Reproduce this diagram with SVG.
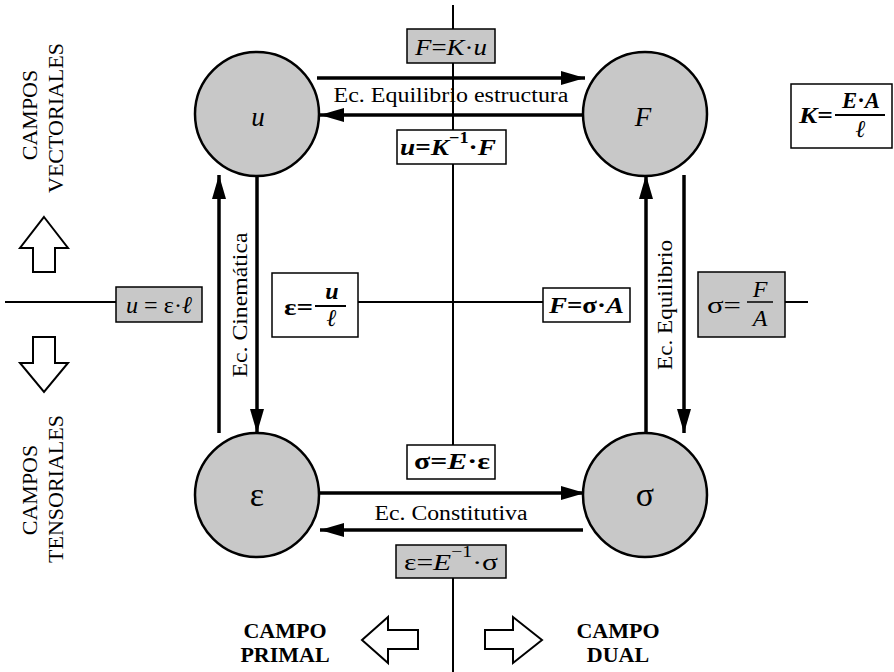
<svg xmlns="http://www.w3.org/2000/svg" width="894" height="672" viewBox="0 0 894 672" font-family="'Liberation Serif', 'Times New Roman', serif">
<defs>
<style>
text{font-family:'Liberation Serif','Times New Roman',serif;fill:#000}
.ax{stroke:#000;stroke-width:2;fill:none}
.ar{stroke:#000;stroke-width:3.5;fill:none;marker-end:url(#ah)}
.nd{fill:#c8c8c8;stroke:#000;stroke-width:2.5}
.bg{fill:#c8c8c8;stroke:#000;stroke-width:1.5}
.bw{fill:#fff;stroke:#000;stroke-width:1.5}
.blk{fill:#fff;stroke:#000;stroke-width:2}
.lbl{font-size:20px}
.side{font-size:22px}
.camp{font-size:22px;font-weight:bold}
.f{font-size:24px}
.i{font-style:italic}
.b{font-weight:bold}
.bi{font-weight:bold;font-style:italic}
.sup{font-size:16px}
</style>
<marker id="ah" markerUnits="userSpaceOnUse" markerWidth="26" markerHeight="14" refX="24" refY="7" orient="auto">
<path d="M0,0 L24,7 L0,14 z" fill="#000"/>
</marker>
</defs>

<g id="axes">
<line class="ax" x1="453" y1="5" x2="453" y2="445"/>
<line class="ax" x1="453" y1="578" x2="453" y2="672"/>
<line class="ax" x1="5" y1="302" x2="116" y2="302"/>
<line class="ax" x1="358" y1="302" x2="543" y2="302"/>
<line class="ax" x1="785" y1="302" x2="808" y2="302"/>
</g>

<g id="connectors">
<line class="ar" x1="317" y1="78" x2="585" y2="78"/>
<line class="ar" x1="583" y1="115" x2="320" y2="115"/>
<line class="ar" x1="317" y1="493" x2="585" y2="493"/>
<line class="ar" x1="583" y1="530" x2="320" y2="530"/>
<line class="ar" x1="219" y1="433" x2="219" y2="175"/>
<line class="ar" x1="257" y1="176" x2="257" y2="433"/>
<line class="ar" x1="646" y1="433" x2="646" y2="175"/>
<line class="ar" x1="684" y1="175" x2="684" y2="433"/>
<text class="lbl" x="451" y="102" text-anchor="middle" textLength="235" lengthAdjust="spacingAndGlyphs">Ec. Equilibrio estructura</text>
<text class="lbl" x="451" y="520" text-anchor="middle" textLength="153" lengthAdjust="spacingAndGlyphs">Ec. Constitutiva</text>
<text class="lbl" transform="translate(247,305) rotate(-90)" text-anchor="middle" textLength="145" lengthAdjust="spacingAndGlyphs">Ec. Cinemática</text>
<text class="lbl" transform="translate(672,305) rotate(-90)" text-anchor="middle" textLength="130" lengthAdjust="spacingAndGlyphs">Ec. Equilibrio</text>
</g>

<g id="node-u">
<circle class="nd" cx="257" cy="114" r="62"/>
<text class="i" x="258" y="126" font-size="27" text-anchor="middle">u</text>
</g>
<g id="node-F">
<circle class="nd" cx="645" cy="114" r="62"/>
<text class="i" x="643" y="126" font-size="27" text-anchor="middle">F</text>
</g>
<g id="node-eps">
<circle class="nd" cx="257" cy="495" r="62"/>
<text x="257" y="506" font-size="34" text-anchor="middle">ε</text>
</g>
<g id="node-sigma">
<circle class="nd" cx="645" cy="495" r="62"/>
<text x="645" y="506" font-size="34" text-anchor="middle">σ</text>
</g>

<g id="box-FKu">
<rect class="bg" x="407" y="29" width="88" height="34"/>
<text class="f" x="415" y="55" textLength="72" lengthAdjust="spacingAndGlyphs"><tspan class="i">F</tspan>=<tspan class="i">K</tspan>·<tspan class="i">u</tspan></text>
</g>
<g id="box-uKF">
<rect class="bw" x="397" y="130" width="109" height="34"/>
<text class="f" x="400" y="155" textLength="96" lengthAdjust="spacingAndGlyphs"><tspan class="bi">u</tspan><tspan class="b">=</tspan><tspan class="bi">K</tspan><tspan class="b sup" dy="-12">−1</tspan><tspan class="b" dy="12">·</tspan><tspan class="bi">F</tspan></text>
</g>
<g id="box-K">
<rect class="bw" x="791" y="84" width="101" height="64"/>
<text class="f" x="799" y="123" textLength="34" lengthAdjust="spacingAndGlyphs"><tspan class="bi">K</tspan><tspan class="b">=</tspan></text>
<line x1="835" y1="115" x2="885" y2="115" stroke="#000" stroke-width="2"/>
<text class="f" x="842" y="108" textLength="38" lengthAdjust="spacingAndGlyphs"><tspan class="bi">E</tspan><tspan class="b">·</tspan><tspan class="bi">A</tspan></text>
<text class="f bi" x="861" y="137" text-anchor="middle">ℓ</text>
</g>
<g id="box-ueps">
<rect class="bg" x="116" y="287" width="86" height="35"/>
<text class="f" x="126" y="313" textLength="66" lengthAdjust="spacingAndGlyphs"><tspan class="i">u</tspan> = ε·<tspan class="i">ℓ</tspan></text>
</g>
<g id="box-epsu">
<rect class="bw" x="272" y="273" width="86" height="64"/>
<text class="f b" x="284" y="315" textLength="29" lengthAdjust="spacingAndGlyphs">ε=</text>
<line x1="315" y1="306" x2="346" y2="306" stroke="#000" stroke-width="2"/>
<text class="f bi" x="332" y="299" text-anchor="middle">u</text>
<text class="f bi" x="332" y="326" text-anchor="middle">ℓ</text>
</g>
<g id="box-FsA">
<rect class="bw" x="543" y="288" width="87" height="34"/>
<text class="f" x="549" y="313" textLength="75" lengthAdjust="spacingAndGlyphs"><tspan class="bi">F</tspan><tspan class="b">=</tspan><tspan class="b">σ</tspan><tspan class="b">·</tspan><tspan class="bi">A</tspan></text>
</g>
<g id="box-sFA">
<rect class="bg" x="698" y="272" width="87" height="65"/>
<text class="f" x="707" y="313" textLength="34" lengthAdjust="spacingAndGlyphs">σ=</text>
<line x1="747" y1="302" x2="773" y2="302" stroke="#000" stroke-width="1.5"/>
<text class="f i" x="760" y="297" text-anchor="middle">F</text>
<text class="f i" x="760" y="326" text-anchor="middle">A</text>
</g>
<g id="box-sEe">
<rect class="bw" x="407" y="445" width="88" height="34"/>
<text class="f" x="414" y="469" textLength="76" lengthAdjust="spacingAndGlyphs"><tspan class="b">σ=</tspan><tspan class="bi">E</tspan><tspan class="b">·ε</tspan></text>
</g>
<g id="box-eEs">
<rect class="bg" x="396" y="545" width="110" height="33"/>
<text class="f" x="404" y="570" textLength="94" lengthAdjust="spacingAndGlyphs">ε=<tspan class="i">E</tspan><tspan class="sup" dy="-13">−1</tspan><tspan dy="13">·σ</tspan></text>
</g>

<g id="side-vectoriales">
<text class="side" transform="translate(37,115) rotate(-90)" text-anchor="middle">CAMPOS</text>
<text class="side" transform="translate(63,118) rotate(-90)" text-anchor="middle">VECTORIALES</text>
<polygon class="blk" points="44,217 68,248 55,248 55,272 33,272 33,248 20,248"/>
</g>
<g id="side-tensoriales">
<polygon class="blk" points="33,337 55,337 55,363 68,363 44,392 20,363 33,363"/>
<text class="side" transform="translate(37,490) rotate(-90)" text-anchor="middle">CAMPOS</text>
<text class="side" transform="translate(63,489) rotate(-90)" text-anchor="middle">TENSORIALES</text>
</g>
<g id="bottom-primal">
<text class="camp" x="285" y="638" text-anchor="middle">CAMPO</text>
<text class="camp" x="285" y="662" text-anchor="middle">PRIMAL</text>
<polygon class="blk" points="362,640 388,617 388,630 418,630 418,649 388,649 388,663"/>
</g>
<g id="bottom-dual">
<polygon class="blk" points="542,640 513,617 513,630 485,630 485,649 513,649 513,663"/>
<text class="camp" x="618" y="638" text-anchor="middle">CAMPO</text>
<text class="camp" x="618" y="662" text-anchor="middle">DUAL</text>
</g>
</svg>
